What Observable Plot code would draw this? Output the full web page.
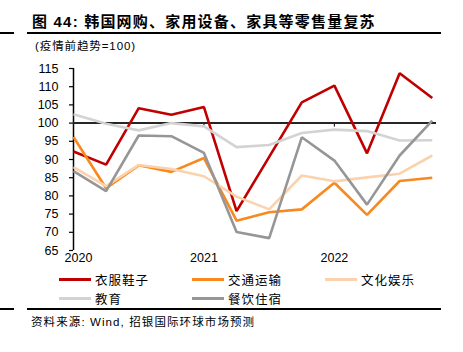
<!DOCTYPE html>
<html>
<head>
<meta charset="utf-8">
<script src="https://cdn.jsdelivr.net/npm/d3@7"></script>
<script src="https://cdn.jsdelivr.net/npm/@observablehq/plot@0.6"></script>
<style>
  html, body { margin: 0; padding: 0; background: #fff; }
  #wrap { position: relative; width: 463px; height: 352px; overflow: hidden; background: #fff; font-family: "Liberation Sans", Arial, sans-serif; color: #000; }
  .rule { position: absolute; height: 2px; background: #000; }
  #title { position: absolute; left: 32px; top: 10px; font-size: 15px; font-weight: bold; font-family: "Liberation Sans", "Noto Sans CJK SC", sans-serif; white-space: nowrap; letter-spacing: 1.2px; }
  #subtitle { position: absolute; left: 35px; top: 37px; font-size: 11.5px; font-family: "Liberation Sans", "Noto Sans CJK SC", sans-serif; white-space: nowrap; letter-spacing: 0.9px; }
  #chart { position: absolute; left: 0; top: 55px; }
  #legend { position: absolute; left: 59px; top: 270px; width: 400px; }
  .li { position: absolute; display: flex; align-items: center; white-space: nowrap; font-size: 12.5px; font-family: "Noto Sans CJK SC", sans-serif; letter-spacing: 1px; }
  .sw { width: 32px; height: 3px; margin-right: 4px; }
  #source { position: absolute; left: 31px; top: 313px; font-size: 11.5px; font-family: "Liberation Sans", "Noto Sans CJK SC", sans-serif; white-space: nowrap; letter-spacing: 1.1px; }
</style>
</head>
<body>
<div id="wrap">
  <div class="rule" style="left:0;width:14px;top:32px;"></div>
  <div class="rule" style="left:27px;width:414px;top:32px;"></div>
  <div id="title"></div>
  <div id="subtitle"></div>
  <div id="chart"></div>
  <div id="legend"></div>
  <div class="rule" style="left:0;width:14px;top:308px;"></div>
  <div class="rule" style="left:27px;width:414px;top:308px;"></div>
  <div id="source"></div>
</div>
<script>
const titleText = "图 44: 韩国网购、家用设备、家具等零售量复苏";
const subtitleText = "(疫情前趋势=100)";
const sourceText = "资料来源: Wind, 招银国际环球市场预测";

// quarterly observations 2020Q1 .. 2022Q4
const quarters = ["2020Q1","2020Q2","2020Q3","2020Q4","2021Q1","2021Q2","2021Q3","2021Q4","2022Q1","2022Q2","2022Q3","2022Q4"];
const yearLabels = ["2020", "2021", "2022"];
const yearIndex = [0, 4, 8];
const yTicks = [65, 70, 75, 80, 85, 90, 95, 100, 105, 110, 115];

const seriesNames = ["衣服鞋子", "交通运输", "文化娱乐", "教育", "餐饮住宿"];
const seriesColors = ["#c00000", "#f7891f", "#fbd2ad", "#d3d3d3", "#969696"];

const clothing   = [92.2, 88.6, 104.1, 102.3, 104.4, 75.8, 90.7, 105.7, 110.3, 91.7, 113.7, 106.9];
const transport  = [96.2, 82.1, 88.4, 86.6, 90.4, 73.2, 75.5, 76.3, 83.6, 74.8, 84.1, 85.0];
const culture    = [87.9, 82.7, 88.5, 87.4, 85.4, 79.8, 76.3, 85.6, 84.0, 85.1, 86.1, 91.1];
const education  = [102.4, 99.8, 98.0, 100.0, 99.1, 93.4, 94.0, 97.3, 98.2, 97.8, 95.2, 95.3];
const catering   = [86.8, 81.3, 96.6, 96.4, 91.8, 70.1, 68.4, 96.1, 89.7, 77.6, 91.1, 100.7];
const baseline = 100;

const seriesValues = [clothing, transport, culture, education, catering];

const rows = [];
seriesNames.forEach((name, s) => {
  seriesValues[s].forEach((v, i) => rows.push({series: name, i, q: quarters[i], value: v}));
});

document.getElementById("title").textContent = titleText;
document.getElementById("subtitle").textContent = subtitleText;
document.getElementById("source").textContent = sourceText;

const chart = Plot.plot({
  width: 463,
  height: 215,
  marginTop: 13,
  marginBottom: 20,
  marginLeft: 73,
  marginRight: 27,
  style: {fontFamily: "'Liberation Sans', Arial, sans-serif", fontSize: "12px", color: "#000", background: "transparent", overflow: "visible"},
  x: {domain: [0, 11.13], axis: null},
  y: {domain: [65, 115], axis: null},
  color: {domain: seriesNames, range: seriesColors},
  marks: [
    Plot.axisY(yTicks, {anchor: "left", label: null, tickSize: 4, tickPadding: 11, fontSize: 12.5, stroke: "#000", strokeWidth: 1.2}),
    Plot.ruleX([0], {stroke: "#000", strokeWidth: 1.5}),
    Plot.ruleY([baseline], {stroke: "#262626", strokeWidth: 2}),
    Plot.ruleX(yearIndex.slice(1), {x: d => d, y1: baseline, y2: baseline - 1.1, stroke: "#262626", strokeWidth: 1.2}),
    Plot.text(yearIndex.slice(0, 1), {x: d => d, text: (d) => yearLabels[yearIndex.indexOf(d)], frameAnchor: "bottom", dy: 11, dx: 5, fontSize: 12.5, fill: "#000"}),
    Plot.text(yearIndex.slice(1), {x: d => d, text: (d) => yearLabels[yearIndex.indexOf(d)], frameAnchor: "bottom", dy: 11, fontSize: 12.5, fill: "#000"}),
    Plot.line(rows, {x: "i", y: "value", z: "series", stroke: "series", strokeWidth: 2.6, strokeLinejoin: "miter", strokeLinecap: "butt"})
  ]
});
document.getElementById("chart").appendChild(chart);

const legend = document.getElementById("legend");
seriesNames.forEach((name, s) => {
  const col = s % 3, row = Math.floor(s / 3);
  const item = document.createElement("div");
  item.className = "li";
  item.style.left = (col * 133) + "px";
  item.style.top = (row * 19) + "px";
  const sw = document.createElement("div");
  sw.className = "sw";
  sw.style.background = seriesColors[s];
  const t = document.createElement("span");
  t.textContent = name;
  item.appendChild(sw);
  item.appendChild(t);
  legend.appendChild(item);
});
</script>
</body>
</html>
